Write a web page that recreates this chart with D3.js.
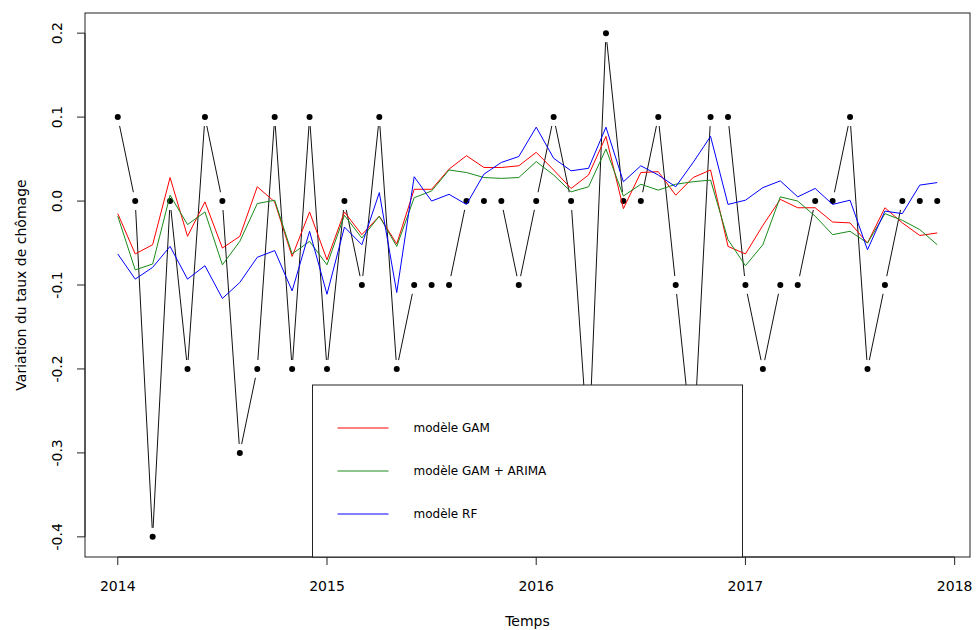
<!DOCTYPE html>
<head>
  <meta charset="utf-8">
  <script src="https://d3js.org/d3.v7.min.js"></script>
  <style type="text/css">
    body { margin: 0; background: #fff; }
    svg { display: block; }
    text { font-family: "DejaVu Sans", sans-serif; fill: #000; }
  </style>
</head>

<body>
  <script type="text/javascript">
    // monthly series, jan 2014 -> dec 2017
    var startYear = 2014;
    var observed = [0.1, 0, -0.4, 0, -0.2, 0.1, 0, -0.3, -0.2, 0.1, -0.2, 0.1,
      -0.2, 0, -0.1, 0.1, -0.2, -0.1, -0.1, -0.1, 0, 0, 0, -0.1,
      0, 0.1, 0, -0.3, 0.2, 0, 0, 0.1, -0.1, -0.3, 0.1, 0.1,
      -0.1, -0.2, -0.1, -0.1, 0, 0, 0.1, -0.2, -0.1, 0, 0, 0];
    var gam = [-0.015, -0.063, -0.052, 0.028, -0.042, -0.001, -0.056, -0.042, 0.017, -0.001, -0.066, -0.013,
      -0.070, -0.013, -0.040, -0.018, -0.051, 0.014, 0.014, 0.038, 0.054, 0.040, 0.040, 0.042,
      0.058, 0.037, 0.015, 0.031, 0.077, -0.009, 0.034, 0.035, 0.007, 0.028, 0.037, -0.054,
      -0.063, -0.029, 0.002, -0.008, -0.008, -0.025, -0.026, -0.050, -0.008, -0.026, -0.041, -0.038];
    var gamArima = [-0.018, -0.082, -0.075, 0.007, -0.028, -0.013, -0.076, -0.048, -0.003, 0.001, -0.063, -0.048,
      -0.076, -0.017, -0.044, -0.018, -0.054, 0.004, 0.012, 0.037, 0.034, 0.028, 0.027, 0.028,
      0.047, 0.031, 0.011, 0.017, 0.062, 0.006, 0.020, 0.013, 0.020, 0.023, 0.025, -0.046,
      -0.077, -0.052, 0.005, 0.000, -0.018, -0.040, -0.036, -0.050, -0.015, -0.023, -0.034, -0.052];
    var rf = [-0.063, -0.093, -0.079, -0.054, -0.093, -0.077, -0.116, -0.097, -0.067, -0.059, -0.107, -0.036,
      -0.111, -0.031, -0.052, 0.010, -0.109, 0.029, 0.000, 0.008, -0.004, 0.032, 0.046, 0.053,
      0.088, 0.051, 0.036, 0.039, 0.088, 0.023, 0.042, 0.031, 0.017, 0.046, 0.077, -0.004,
      0.001, 0.016, 0.024, 0.005, 0.015, -0.004, 0.001, -0.058, -0.012, -0.015, 0.019, 0.022];

    var xTicks = [2014, 2015, 2016, 2017, 2018];
    var yTicks = [0.2, 0.1, 0, -0.1, -0.2, -0.3, -0.4];
    var yTickLabels = ["0.2", "0.1", "0.0", "-0.1", "-0.2", "-0.3", "-0.4"];
    var legendLabels = ["modèle GAM", "modèle GAM + ARIMA", "modèle RF"];
    var legendColors = ["#ff0000", "#1a8a1a", "#0000ff"];

    var W = 976, H = 630;
    var plot = { left: 85, right: 970, top: 13, bottom: 557 };

    var svg = d3.select("body").append("svg")
      .attr("width", W)
      .attr("height", H);

    var times = observed.map(function(d, i) { return startYear + i / 12; });

    // R style 4% padding of the data range
    var xmin = d3.min(times), xmax = d3.max(times);
    var xpad = (xmax - xmin) * 0.04;
    var ymin = d3.min(observed), ymax = d3.max(observed);
    var ypad = (ymax - ymin) * 0.04;

    var xScale = d3.scaleLinear()
      .domain([xmin - xpad, xmax + xpad])
      .range([plot.left, plot.right]);
    var yScale = d3.scaleLinear()
      .domain([ymin - ypad, ymax + ypad])
      .range([plot.bottom, plot.top]);

    // observed: type "b" -> segments with a gap around the points
    var pts = observed.map(function(d, i) { return [xScale(times[i]), yScale(d)]; });
    var gap = 9;
    var segs = [];
    for (var i = 0; i < pts.length - 1; i++) {
      var a = pts[i], b = pts[i + 1];
      var dx = b[0] - a[0], dy = b[1] - a[1];
      var len = Math.sqrt(dx * dx + dy * dy);
      if (len > 2 * gap) {
        var ux = dx / len, uy = dy / len;
        segs.push([a[0] + ux * gap, a[1] + uy * gap, b[0] - ux * gap, b[1] - uy * gap]);
      }
    }
    svg.append("g").selectAll("line")
      .data(segs)
      .enter().append("line")
      .attr("x1", function(d) { return d[0]; })
      .attr("y1", function(d) { return d[1]; })
      .attr("x2", function(d) { return d[2]; })
      .attr("y2", function(d) { return d[3]; })
      .attr("stroke", "#111")
      .attr("stroke-width", 1);

    svg.append("g").selectAll("circle")
      .data(observed)
      .enter().append("circle")
      .attr("cx", function(d, i) { return xScale(times[i]); })
      .attr("cy", function(d) { return yScale(d); })
      .attr("r", 3)
      .attr("fill", "#000");

    var line = d3.line()
      .x(function(d, i) { return xScale(times[i]); })
      .y(function(d) { return yScale(d); });

    [gam, gamArima, rf].forEach(function(s, k) {
      svg.append("path")
        .datum(s)
        .attr("d", line)
        .attr("fill", "none")
        .attr("stroke", legendColors[k])
        .attr("stroke-width", 1);
    });

    // box
    svg.append("rect")
      .attr("x", plot.left)
      .attr("y", plot.top)
      .attr("width", plot.right - plot.left)
      .attr("height", plot.bottom - plot.top)
      .attr("fill", "none")
      .attr("stroke", "#222")
      .attr("stroke-width", 1);

    // x axis
    var xAxis = svg.append("g").attr("class", "x--axis");
    xAxis.append("line")
      .attr("x1", xScale(xTicks[0])).attr("x2", xScale(xTicks[xTicks.length - 1]))
      .attr("y1", plot.bottom).attr("y2", plot.bottom)
      .attr("stroke", "#222");
    xAxis.selectAll("line.tick")
      .data(xTicks)
      .enter().append("line")
      .attr("class", "tick")
      .attr("x1", function(d) { return xScale(d); })
      .attr("x2", function(d) { return xScale(d); })
      .attr("y1", plot.bottom).attr("y2", plot.bottom + 8)
      .attr("stroke", "#222");
    xAxis.selectAll("text")
      .data(xTicks)
      .enter().append("text")
      .attr("x", function(d) { return xScale(d); })
      .attr("y", 591)
      .attr("text-anchor", "middle")
      .style("font-size", "14px")
      .text(function(d) { return d; });

    // y axis
    var yAxis = svg.append("g").attr("class", "y--axis");
    yAxis.append("line")
      .attr("x1", plot.left).attr("x2", plot.left)
      .attr("y1", yScale(yTicks[0])).attr("y2", yScale(yTicks[yTicks.length - 1]))
      .attr("stroke", "#222");
    yAxis.selectAll("line.tick")
      .data(yTicks)
      .enter().append("line")
      .attr("class", "tick")
      .attr("x1", plot.left - 8).attr("x2", plot.left)
      .attr("y1", function(d) { return yScale(d); })
      .attr("y2", function(d) { return yScale(d); })
      .attr("stroke", "#222");
    yAxis.selectAll("text")
      .data(yTicks)
      .enter().append("text")
      .attr("transform", function(d) { return "translate(62," + yScale(d) + ") rotate(-90)"; })
      .attr("text-anchor", "middle")
      .style("font-size", "14px")
      .text(function(d, i) { return yTickLabels[i]; });

    svg.append("text")
      .attr("x", (plot.left + plot.right) / 2)
      .attr("y", 626)
      .attr("text-anchor", "middle")
      .style("font-size", "14px")
      .text("Temps");

    svg.append("text")
      .attr("transform", "translate(26," + (plot.top + plot.bottom) / 2 + ") rotate(-90)")
      .attr("text-anchor", "middle")
      .style("font-size", "14px")
      .text("Variation du taux de chômage");

    // legend ("bottom")
    var legW = 430, legH = 172;
    var legX = (plot.left + plot.right) / 2 - legW / 2;
    var legY = plot.bottom - legH;
    var legend = svg.append("g")
      .attr("transform", "translate(" + legX + "," + legY + ")");
    legend.append("rect")
      .attr("width", legW)
      .attr("height", legH)
      .attr("fill", "#fff")
      .attr("stroke", "#222")
      .attr("stroke-width", 1);
    var items = legend.selectAll("g.item")
      .data(legendLabels)
      .enter().append("g")
      .attr("class", "item")
      .attr("transform", function(d, i) { return "translate(0," + (43 + i * 43) + ")"; });
    items.append("line")
      .attr("x1", 25).attr("x2", 76)
      .attr("stroke", function(d, i) { return legendColors[i]; })
      .attr("stroke-width", 1);
    items.append("text")
      .attr("x", 101)
      .attr("dy", "0.35em")
      .style("font-size", "12px")
      .text(function(d) { return d; });
  </script>
</body>
